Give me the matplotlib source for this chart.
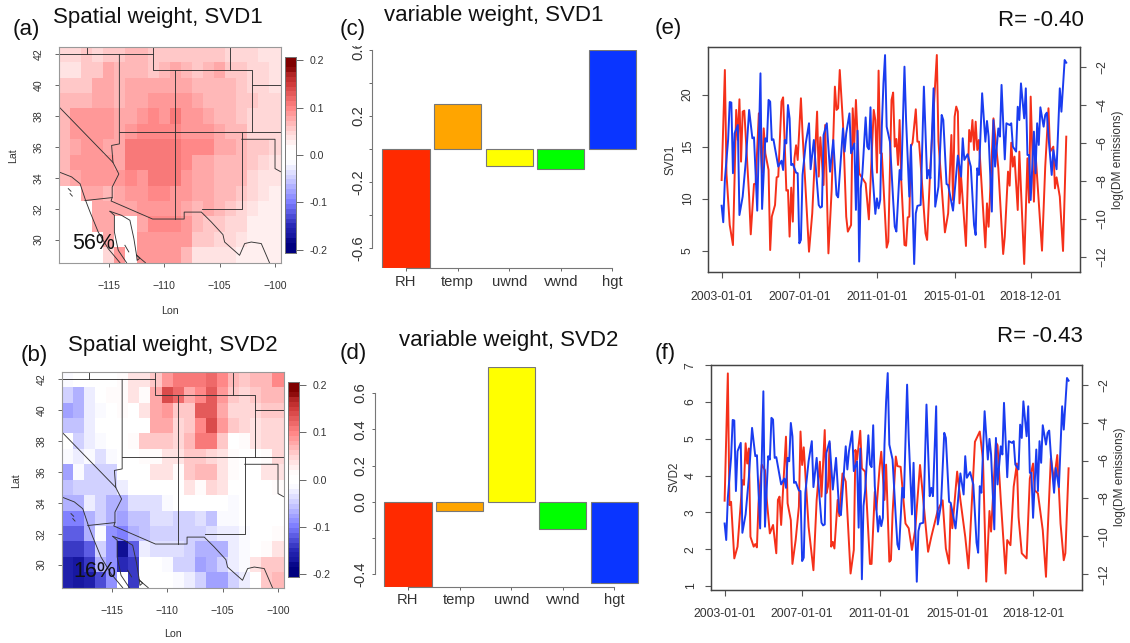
import numpy as np
import matplotlib
matplotlib.use("Agg")
import matplotlib.pyplot as plt
from matplotlib.colors import LinearSegmentedColormap
from matplotlib.transforms import Bbox

plt.rcParams["font.family"] = ["Liberation Sans", "DejaVu Sans"]

W, H = 1130, 643

# spatial weights, rows north to south (42N..29N), columns west to east (119W..100W)
svd1_map = [
    [.045,.045,.05,.04,.055,.055,.06,.06,.055,.05,.05,.05,.05,.05,.05,.04,.04,.04,.03,.03],
    [.035,.035,.055,.055,.07,.06,.06,.06,.055,.06,.07,.06,.055,.06,.07,.055,.05,.045,.04,.035],
    [.05,.05,.055,.07,.07,.06,.07,.07,.075,.075,.075,.07,.065,.06,.06,.06,.055,.045,.04,.03],
    [.065,.065,.065,.07,.07,.065,.07,.07,.085,.085,.085,.085,.07,.06,.06,.06,.055,.05,.04,.04],
    [.065,.08,.08,.08,.085,.075,.075,.08,.095,.08,.1,.085,.08,.07,.065,.06,.05,.045,.04,.04],
    [.065,.08,.08,.08,.085,.075,.085,.095,.09,.09,.09,.085,.085,.08,.07,.065,.06,.045,.04,.04],
    [.065,.07,.08,.08,.075,.07,.1,.1,.1,.1,.1,.09,.09,.09,.075,.07,.065,.05,.05,.04],
    [.065,.08,.08,.08,.08,.07,.105,.105,.105,.105,.1,.09,.07,.07,.065,.065,.06,.05,.045,.03],
    [.06,.07,.08,.08,.08,.08,.09,.085,.105,.105,.1,.085,.07,.07,.065,.065,.06,.04,.03,.03],
    [0,0,.07,.075,.065,.075,.08,.085,.09,.09,.085,.085,.075,.07,.065,.06,.05,.04,.03,.025],
    [0,0,0,.07,.07,.075,.07,.08,.085,.08,.08,.07,.065,.07,.06,.05,.045,.035,.025,.025],
    [0,0,0,.075,.075,0,0,.075,.09,.09,.09,.08,.065,.055,.05,.04,.04,.025,.025,.025],
    [0,0,0,0,.07,0,0,.08,.085,.085,.085,.085,.05,.05,.04,.04,.03,.025,.025,.025],
    [0,0,0,0,.04,.08,0,.08,.085,.085,.085,.06,.03,.03,.03,.03,.025,.025,.025,.025],
]
svd2_map = [
    [-.02,0,0,0,0,.02,.03,.03,.05,.08,.1,.1,.1,.115,.09,.06,.05,.06,.06,.09],
    [-.045,-.07,-.03,0,.02,.02,.03,.02,.07,.13,.115,.07,.09,.125,.08,.05,.04,.05,.06,.06],
    [-.08,-.07,-.03,-.02,0,.02,0,.03,.07,.085,.05,.055,.125,.125,.07,.04,.04,.04,.05,.05],
    [-.06,-.06,-.03,0,0,0,0,0,.07,.07,.04,.05,.09,.13,.08,.05,.04,.03,.045,.045],
    [0,-.04,-.03,-.02,0,0,.02,.05,.05,.05,.04,.06,.1,.11,.05,0,.02,.03,.04,.04],
    [-.02,-.03,-.02,-.035,-.02,0,0,.02,.02,.03,.03,.05,.05,.04,.03,.02,0,0,.02,.04],
    [-.075,-.02,-.05,-.05,-.04,0,0,0,.03,.03,.02,.05,.06,.06,.03,.02,0,0,.03,.03],
    [-.06,-.05,-.05,-.05,-.05,-.03,0,0,0,0,0,.03,.02,.04,.03,0,0,0,0,.02],
    [-.065,-.07,-.03,-.05,-.065,-.07,-.035,-.035,-.035,-.02,0,0,0,0,0,-.02,0,0,0,0],
    [-.1,-.1,-.065,-.05,-.07,-.08,-.06,-.06,-.035,-.035,-.05,-.05,-.035,-.06,-.02,-.02,0,0,0,0],
    [-.12,-.12,-.07,-.02,-.09,-.1,-.07,-.06,-.05,-.05,-.05,-.05,-.05,-.035,-.03,-.03,-.02,0,0,.02],
    [-.14,-.14,-.115,-.05,-.09,-.18,-.12,-.03,-.035,-.035,-.035,-.05,-.07,-.07,-.065,-.03,-.02,0,.02,.03],
    [-.16,-.17,-.14,-.07,-.09,-.15,-.14,0,0,-.02,-.04,-.05,-.08,-.065,-.05,-.03,-.02,.03,.05,.05],
    [-.16,-.17,-.16,-.13,-.09,0,-.14,0,0,0,-.02,-.03,-.05,-.08,-.08,-.05,-.03,0,.05,.06],
]

# borders and coasts as (lon, lat) lines
map_lines = [
    [(-119.5,42.0),(-111.05,42.0)],
    [(-117.0,42.5),(-117.0,42.0)],
    [(-111.05,42.5),(-111.05,41.0),(-102.05,41.0),(-102.05,37.0)],
    [(-104.05,42.5),(-104.05,41.0)],
    [(-102.05,40.0),(-99.5,40.0)],
    [(-114.05,42.0),(-114.05,36.2),(-114.4,36.15),(-114.75,36.1),(-114.63,35.0),
     (-114.1,34.25),(-114.7,33.4),(-114.7,32.72)],
    [(-114.05,37.0),(-99.5,37.0)],
    [(-119.5,38.6),(-114.63,35.0)],
    [(-109.05,41.0),(-109.05,31.33)],
    [(-117.15,32.53),(-114.7,32.72),(-114.8,32.5),(-111.05,31.33),(-108.2,31.33),
     (-108.2,31.78),(-106.65,31.78),(-105.75,31.14),(-104.7,30.32),(-104.55,29.84),
     (-103.2,28.98),(-102.74,29.74),(-102.14,29.84),(-101.24,29.74),(-100.5,28.5)],
    [(-106.6,32.0),(-103.0,32.0),(-103.0,37.0)],
    [(-103.0,36.5),(-100.0,36.5),(-100.0,34.6),(-99.5,34.4)],
    [(-119.5,34.38),(-118.36,34.06),(-117.6,33.62),(-117.1,32.54),(-116.7,31.79),
     (-115.96,30.49),(-115.06,29.41),(-114.0,28.5)],
    [(-114.9,31.83),(-114.5,31.57),(-114.5,30.49),(-114.15,29.3),(-113.4,28.5)],
    [(-114.9,31.83),(-113.85,31.57),(-113.1,31.25),(-112.74,30.06),(-112.5,28.98),(-111.7,28.5)],
    [(-118.66,33.3),(-118.42,33.13)],
    [(-118.5,32.98),(-118.3,32.82)],
    [(-113.55,29.63),(-113.2,29.2)],
    [(-112.5,29.0),(-112.2,28.8),(-112.45,28.65),(-112.5,29.0)],
]

variables = ["RH", "temp", "uwnd", "vwnd", "hgt"]
bar_colors = ["#FF2A00", "#FFA500", "#FFFF00", "#00FF00", "#0A35FF"]
svd1_weights = [-0.724, 0.275, -0.101, -0.121, 0.60]
svd2_weights = [-0.468, -0.048, 0.744, -0.148, -0.447]

date_ticks = [0, 48, 96, 144, 191]
date_labels = ["2003-01-01", "2007-01-01", "2011-01-01", "2015-01-01", "2018-12-01"]

dm_months = [0,1,2,4,5,6,7,8,10,11,13,15,17,19,20,22,24,25,27,28,29,30,31,32,35,37,38,39,40,41,42,43,44,46,47,48,49,50,52,54,55,57,58,60,61,62,63,65,67,69,70,71,72,75,76,77,79,80,82,83,84,85,86,87,89,90,91,92,93,95,96,97,98,99,100,101,102,104,106,107,108,110,111,113,114,116,117,119,120,121,123,125,127,128,129,131,132,134,136,137,139,140,143,146,148,149,150,152,154,156,157,158,159,161,163,164,165,167,168,169,171,172,173,175,176,178,179,180,182,183,184,185,187,188,189,190,191,193,194,195,196,197,199,200,201,202,204,205,207,209,210,212,213]
dm_values = [-9.32,-10.19,-7.96,-5.86,-3.86,-3.89,-7.61,-5.51,-5.07,-9.81,-8.84,-6.91,-4.28,-5.77,-5.72,-9.58,-2.35,-9.49,-5.77,-5.95,-3.75,-3.84,-5.86,-5.82,-7.26,-6.95,-7.44,-5.86,-6.04,-4.02,-4.72,-7.18,-7.12,-7.58,-7.61,-11.30,-11.12,-7.70,-6.04,-4.98,-7.40,-5.86,-7.09,-9.28,-9.42,-9.37,-5.60,-4.98,-7.53,-5.86,-7.35,-8.75,-8.88,-5.25,-6.47,-5.51,-4.46,-6.56,-6.04,-9.54,-5.37,-12.26,-8.40,-7.61,-4.67,-6.21,-6.35,-4.14,-7.35,-9.75,-8.93,-9.46,-9.02,-5.16,-2.88,-1.39,-5.16,-5.95,-9.02,-10.42,-10.68,-7.44,-7.96,-2.0,-4.81,-8.84,-6.12,-12.39,-9.72,-9.33,-9.28,-3.05,-7.88,-7.44,-7.88,-3.14,-9.37,-8.32,-4.54,-4.81,-8.18,-8.23,-9.58,-6.68,-7.79,-5.77,-6.91,-6.61,-7.26,-10.33,-10.86,-7.35,-7.70,-3.40,-5.95,-4.86,-5.68,-9.63,-4.81,-7.26,-5.25,-5.68,-2.96,-6.88,-4.98,-5.07,-4.98,-6.21,-6.47,-4.11,-4.81,-2.88,-4.72,-3.14,-6.65,-6.65,-9.02,-5.42,-7.61,-4.98,-6.12,-4.14,-5.16,-4.54,-4.42,-5.68,-7.70,-6.39,-7.40,-3.14,-4.37,-1.65,-1.79]

svd1_months = [0,2,3,5,7,9,10,11,12,13,14,17,18,20,21,23,25,26,27,29,30,31,33,34,35,37,38,40,41,42,43,44,45,46,47,49,50,54,56,59,60,61,63,64,66,68,70,71,72,73,75,77,78,80,81,82,83,85,89,91,94,95,96,97,98,99,102,103,105,106,107,108,109,110,111,113,114,115,116,117,118,120,121,122,124,126,127,129,133,134,138,140,142,143,144,145,146,147,148,151,153,154,155,156,157,158,159,163,164,165,168,171,174,175,177,178,179,180,181,183,184,187,189,190,191,193,194,198,200,202,203,205,206,207,209,211,213]
svd1_values = [11.79,22.37,12.4,7.47,5.54,18.53,15.64,19.55,13.56,18.37,18.46,10.19,6.57,11.41,11.41,18.2,12.5,16.76,14.36,12.76,5.06,8.27,9.39,12.05,12.12,19.33,19.74,10.77,10.83,6.35,11.06,7.79,13.88,15.13,13.72,19.65,16.28,4.9,8.59,18.37,12.12,15.9,11.31,17.08,4.74,10.83,20.77,18.53,18.69,22.37,17.24,8.27,6.83,7.47,18.69,15.32,19.49,12.44,11.47,8.01,18.53,17.56,12.5,22.31,14.36,14.36,5.29,5.87,19.49,20.2,15.0,15.74,13.24,17.56,11.8,5.55,5.48,8.2,8.27,15.0,15.38,18.59,15.48,15.48,11.15,6.67,6.03,13.08,23.81,15.5,6.76,8.59,16.12,9.87,17.88,18.85,18.37,9.55,12.1,5.45,16.6,15.48,17.56,14.68,17.4,14.68,15.64,5.32,9.55,7.3,17.72,12.92,4.68,6.35,12.6,11.25,15.38,13.08,14.04,8.91,14.52,3.72,13.88,9.62,19.81,9.71,14.36,5.0,13.08,18.69,14.52,15.0,10.99,12.05,10.19,4.97,15.96]

svd2_months = [0,2,3,4,6,8,10,11,12,13,14,15,16,18,19,20,21,23,25,26,28,30,32,33,34,35,38,39,41,42,44,46,47,48,49,52,55,57,59,60,62,63,64,65,66,67,68,70,71,73,75,78,80,81,82,84,85,87,90,91,93,94,96,97,99,100,102,103,104,106,107,109,112,114,116,118,121,126,128,132,135,137,139,140,141,144,146,149,151,155,158,160,162,164,165,168,169,171,174,175,177,179,181,182,184,187,189,191,192,194,197,199,200,202,204,206,208,210,211,213]
svd2_values = [3.32,6.78,3.2,3.29,1.75,2.07,3.25,3.88,3.75,4.88,4.33,4.74,2.34,2.07,2.14,2.05,3.25,4.3,4.15,3.4,2.43,2.66,1.89,3.34,3.43,2.66,5.06,3.25,2.79,1.6,2.25,3.16,5.2,4.29,4.77,2.61,1.43,3.34,4.38,3.43,5.24,3.52,3.7,4.88,2.07,2.2,2.02,3.34,2.9,4.06,3.84,1.34,1.98,4.7,4.43,5.22,4.2,4.11,1.6,1.6,3.56,3.07,4.24,4.65,3.34,4.3,1.66,1.71,2.97,4.52,4.26,4.24,2.7,2.57,1.98,2.52,4.29,1.93,2.34,3.06,3.33,2.02,1.61,3.2,2.57,4.11,3.34,2.34,1.48,4.92,5.2,4.43,1.12,3.04,2.48,4.9,4.83,3.34,1.34,2.25,2.11,3.7,4.33,2.88,1.89,1.75,3.92,4.33,3.6,3.52,2.52,1.25,2.43,4.47,3.88,4.56,2.7,1.7,1.89,4.2]

svd_cmap = LinearSegmentedColormap.from_list("svd", [
    (0.0, "#00007F"), (0.125, "#2626B4"), (0.25, "#7C7CFF"), (0.375, "#CCCCFF"),
    (0.47, "#FFFFFF"), (0.53, "#FFFFFF"), (0.625, "#FFD2D2"), (0.75, "#FF8484"),
    (0.875, "#CF3A3A"), (1.0, "#7F0000"),
], N=40)

GREY = "#666666"
TXT = "#333333"


def px_axes(fig, left, top, right, bottom):
    return fig.add_axes([left / W, 1 - bottom / H, (right - left) / W, (bottom - top) / H])


def label(fig, x, y, s, **kw):
    kw.setdefault("ha", "left")
    kw.setdefault("va", "center")
    kw.setdefault("color", "#111111")
    return fig.text(x / W, 1 - y / H, s, **kw)


def draw_map(fig, box, bar_box, grid, lon_y, lat_x):
    ax = px_axes(fig, *box)
    lon_edges = np.arange(-119.5, -99, 1.0)
    lat_edges = np.arange(42.5, 28, -1.0)
    ax.pcolormesh(lon_edges, lat_edges, np.array(grid), cmap=svd_cmap, vmin=-0.2, vmax=0.2)
    for line in map_lines:
        xs, ys = zip(*line)
        ax.plot(xs, ys, color="#333333", lw=0.65, solid_joinstyle="round")
    ax.set_xlim(-119.5, -99.46)
    ax.set_ylim(28.5, 42.5)
    ax.set_xticks([-115, -110, -105, -100])
    ax.set_yticks([30, 32, 34, 36, 38, 40, 42])
    ax.tick_params(axis="x", labelsize=7.6, length=3, width=0.7, color=GREY, labelcolor=TXT, pad=10)
    ax.tick_params(axis="y", labelsize=7.6, length=3, width=0.7, color=GREY, labelcolor=TXT, pad=8)
    for t in ax.get_yticklabels():
        t.set_rotation(90)
        t.set_va("center")
    for s in ax.spines.values():
        s.set_color("#999999")
        s.set_linewidth(0.8)
    label(fig, box[0] + 111, lon_y, "Lon", fontsize=7.6, color=TXT, ha="center")
    label(fig, lat_x, (box[1] + box[3]) / 2 + 1, "Lat", fontsize=7.6, color=TXT, rotation=90, ha="center")

    cax = px_axes(fig, *bar_box)
    levels = np.linspace(-0.206, 0.206, 41)
    cax.pcolormesh([0, 1], levels, ((levels[:-1] + levels[1:]) / 2).reshape(-1, 1),
                   cmap=svd_cmap, vmin=-0.2, vmax=0.2)
    cax.set_ylim(-0.206, 0.206)
    cax.set_xticks([])
    cax.yaxis.tick_right()
    cax.set_yticks([-0.2, -0.1, 0.0, 0.1, 0.2])
    cax.set_yticklabels(["-0.2", "-0.1", "0.0", "0.1", "0.2"])
    cax.tick_params(axis="y", labelsize=7.6, length=5, width=0.7, color=GREY, labelcolor=TXT, pad=4.5)
    for s in cax.spines.values():
        s.set_color("#777777")
        s.set_linewidth(0.7)


def draw_bars(fig, axis_x, centre0, top, bottom, y_range, weights, y_ticks, y_labels, spine_range):
    step = 51.6
    right = axis_x + 270
    ax = px_axes(fig, axis_x, top, right, bottom)
    ax.bar(range(5), weights, width=47.3 / step, color=bar_colors, edgecolor="#777777", linewidth=0.8)
    ax.set_xlim((axis_x - centre0) / step, (right - centre0) / step)
    ax.set_ylim(*y_range)
    for name in ("top", "right"):
        ax.spines[name].set_visible(False)
    ax.spines["left"].set_bounds(*spine_range)
    ax.spines["bottom"].set_bounds(0, 4)
    for name in ("left", "bottom"):
        ax.spines[name].set_color("#777777")
        ax.spines[name].set_linewidth(0.8)
    ax.set_xticks(range(5))
    ax.set_xticklabels(variables)
    ax.set_yticks(y_ticks)
    ax.set_yticklabels(y_labels)
    ax.tick_params(axis="x", labelsize=10.6, length=2, width=0.7, color=GREY, labelcolor=TXT, pad=2.5)
    ax.tick_params(axis="y", labelsize=10.6, length=2, width=0.7, color=GREY, labelcolor=TXT, pad=3)
    for t in ax.get_yticklabels():
        t.set_rotation(90)
        t.set_va("center")
    return ax


def draw_series(fig, box, months, values, ylim, y_ticks):
    ax = px_axes(fig, *box)
    ax.plot(months, values, color="#F5301A", lw=1.4)
    ax.set_xlim(-8.24, 221.3)
    ax.set_ylim(*ylim)
    ax.set_xticks(date_ticks)
    ax.set_xticklabels(date_labels)
    ax.set_yticks(y_ticks)
    ax.tick_params(axis="x", labelsize=8.8, length=4, width=0.8, color="#555555", labelcolor=TXT, pad=9.5)
    ax.tick_params(axis="y", labelsize=8.8, length=4, width=0.8, color="#555555", labelcolor=TXT, pad=6.5)
    for t in ax.get_yticklabels():
        t.set_rotation(90)
        t.set_va("center")
    twin = ax.twinx()
    twin.plot(dm_months, dm_values, color="#1A3CF0", lw=1.4)
    twin.set_ylim(-12.81, -0.98)
    twin.set_yticks([-12, -10, -8, -6, -4, -2])
    twin.tick_params(axis="y", labelsize=8.8, length=4, width=0.8, color="#555555", labelcolor=TXT, pad=8)
    for t in twin.get_yticklabels():
        t.set_rotation(90)
        t.set_va("center")
    for a in (ax, twin):
        for s in a.spines.values():
            s.set_color("#444444")
            s.set_linewidth(0.9)


fig = plt.figure(figsize=(W / 100, H / 100), dpi=100)

draw_map(fig, (59, 46.7, 281, 262.7), (285.3, 57.3, 296.3, 252.7), svd1_map, 310.7, 13)
draw_map(fig, (61.7, 371.7, 284, 587.7), (288.3, 382.3, 299.3, 576.7), svd2_map, 634, 16)

ax_c = draw_bars(fig, 372.3, 406, 50, 268.3, (-0.724, 0.60), svd1_weights,
                 [-0.6, -0.4, -0.2, 0.0, 0.2, 0.4, 0.6], ["-0.6", "", "-0.2", "", "0.2", "", "0.6"], (-0.6, 0.6))
ax_d = draw_bars(fig, 374.7, 408, 367, 586.7, (-0.468, 0.744), svd2_weights,
                 [-0.4, -0.2, 0.0, 0.2, 0.4, 0.6], ["-0.4", "", "0.0", "0.2", "0.4", "0.6"], (-0.4, 0.6))

# the top label of (c) is cut off in the source figure
for t in ax_c.get_yticklabels():
    if t.get_text() == "0.6":
        t.set_clip_on(True)
        t.set_clip_box(Bbox([[340, H - 300], [372, H - 46]]))

draw_series(fig, (708.3, 47.3, 1079.7, 272), svd1_months, svd1_values, (2.95, 24.55), [5, 10, 15, 20])
draw_series(fig, (711.3, 365.3, 1082, 589.7), svd2_months, svd2_values, (0.9, 7.0), [1, 2, 3, 4, 5, 6, 7])

TITLE = 16
label(fig, 13, 30, "(a)", fontsize=TITLE)
label(fig, 53.3, 17.3, "Spatial weight, SVD1", fontsize=TITLE)
label(fig, 20.7, 355.7, "(b)", fontsize=TITLE)
label(fig, 67.7, 345, "Spatial weight, SVD2", fontsize=TITLE)
label(fig, 340, 29, "(c)", fontsize=TITLE)
label(fig, 384.3, 15.7, "variable weight, SVD1", fontsize=TITLE)
label(fig, 340, 353, "(d)", fontsize=TITLE)
label(fig, 399.3, 340.7, "variable weight, SVD2", fontsize=TITLE)
label(fig, 654.7, 28.3, "(e)", fontsize=TITLE)
label(fig, 997.7, 20, "R= -0.40", fontsize=TITLE)
label(fig, 654.7, 353, "(f)", fontsize=TITLE)
label(fig, 997, 336, "R= -0.43", fontsize=TITLE)
label(fig, 72.3, 243.3, "56%", fontsize=15.5)
label(fig, 73.3, 571.7, "16%", fontsize=15.5)

label(fig, 671, 160, "SVD1", fontsize=8.4, color=TXT, rotation=90, ha="center")
label(fig, 1117.7, 160, "log(DM emissions)", fontsize=8.6, color=TXT, rotation=90, ha="center")
label(fig, 674, 477, "SVD2", fontsize=8.4, color=TXT, rotation=90, ha="center")
label(fig, 1120, 477, "log(DM emissions)", fontsize=8.6, color=TXT, rotation=90, ha="center")

fig.savefig("out.png", dpi=100)
